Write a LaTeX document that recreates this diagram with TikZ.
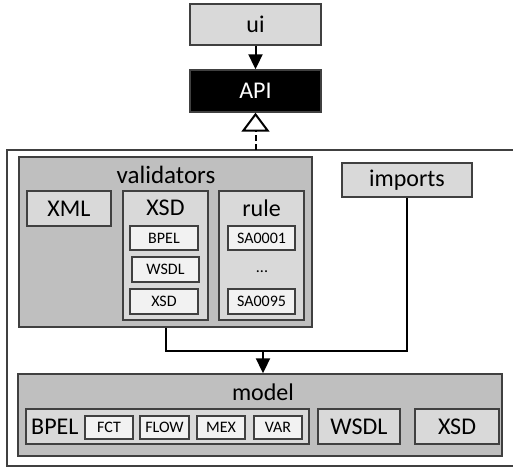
\documentclass[tikz,border=0pt]{standalone}
\usepackage{fontspec}
\setmainfont{Carlito}
\usetikzlibrary{arrows.meta}
\definecolor{midgray}{HTML}{BFBFBF}
\definecolor{lightgray}{HTML}{D9D9D9}
\definecolor{palegray}{HTML}{F2F2F2}
\definecolor{edgegray}{HTML}{404040}
\tikzset{
  blk/.style={draw=edgegray, line width=1.4pt, rectangle, inner sep=0pt, text=black},
  outerblk/.style={blk, fill=midgray},
  midblk/.style={blk, fill=lightgray},
  smallblk/.style={blk, fill=palegray, font=\fontsize{16}{18}\selectfont},
  bigtxt/.style={font=\fontsize{24}{27}\selectfont},
  wire/.style={draw=black, line width=2pt},
}
\begin{document}
\begin{tikzpicture}[x=1pt,y=-1pt]
\useasboundingbox (0,0) rectangle (513,468);

% top layer
\node[midblk, minimum width=131, minimum height=41, bigtxt] (ui) at (255.5,24.5) {ui};
\node[blk, fill=black, text=white, minimum width=131, minimum height=42, bigtxt] (api) at (255.5,91) {API};

% enclosing frame, open to the right
\coordinate (frametop) at (255.5,150);
\draw[draw=edgegray, line width=1.4pt] (514,150) -- (7,150) -- (7,466) -- (514,466);

% validators package
\node[outerblk, minimum width=293, minimum height=170] (validators) at (165.5,242) {};
\node[font=\fontsize{25}{28}\selectfont] (valtitle) at (166,175) {validators};
\node[midblk, minimum width=84, minimum height=35, bigtxt] (xml) at (69,208.5) {XML};
\node[midblk, minimum width=85, minimum height=129] (xsdv) at (165.5,255.5) {};
\node[bigtxt] (xsdtitle) at (165.5,208) {XSD};
\node[smallblk, minimum width=68, minimum height=24] (bpelv) at (164,238) {BPEL};
\node[smallblk, minimum width=67, minimum height=25] (wsdlv) at (165.5,269.5) {WSDL};
\node[smallblk, minimum width=68, minimum height=25] (xsdvv) at (164,301.5) {XSD};
\node[midblk, minimum width=85, minimum height=129] (rule) at (261.5,255.5) {};
\node[bigtxt] (ruletitle) at (261.5,208) {rule};
\node[smallblk, minimum width=67, minimum height=24] (sa1) at (261.5,238) {SA0001};
\node[font=\fontsize{16}{18}\selectfont] (dots) at (262,272) {...};
\node[smallblk, minimum width=67, minimum height=25] (sa95) at (261.5,301.5) {SA0095};

% imports
\node[midblk, minimum width=130, minimum height=34, bigtxt] (imports) at (407,180) {imports};

% model package
\node[outerblk, minimum width=484, minimum height=82] (model) at (260,415) {};
\node[bigtxt] (modeltitle) at (263,392) {model};
\node[midblk, minimum width=283, minimum height=35] (bpelm) at (167.5,426.5) {};
\node[bigtxt, anchor=west, inner sep=0pt] (bpeltitle) at (31,426.5) {BPEL};
\node[smallblk, minimum width=48, minimum height=23] (fct) at (109,427.5) {FCT};
\node[smallblk, minimum width=49, minimum height=23] (flow) at (164.5,427.5) {FLOW};
\node[smallblk, minimum width=48, minimum height=23] (mex) at (221,427.5) {MEX};
\node[smallblk, minimum width=48, minimum height=23] (var) at (278,427.5) {VAR};
\node[midblk, minimum width=82, minimum height=35, bigtxt] (wsdlm) at (359,426.5) {WSDL};
\node[midblk, minimum width=84, minimum height=35, bigtxt] (xsdm) at (457,426.5) {XSD};

% connectors
\draw[wire, -{Triangle[length=15pt, width=14pt]}] (ui) -- (api);
\draw[wire, dash pattern=on 6pt off 3pt,
      -{Triangle[open, length=19pt, width=28pt, fill=white, line width=2pt]}]
      (frametop) -- (api.south);
\coordinate (join) at (263,351);
\draw[wire] (validators.south) |- (join) -| (imports.south);
\draw[wire, -{Triangle[length=15pt, width=14pt]}] (join) -- (join |- model.north);
\end{tikzpicture}
\end{document}
